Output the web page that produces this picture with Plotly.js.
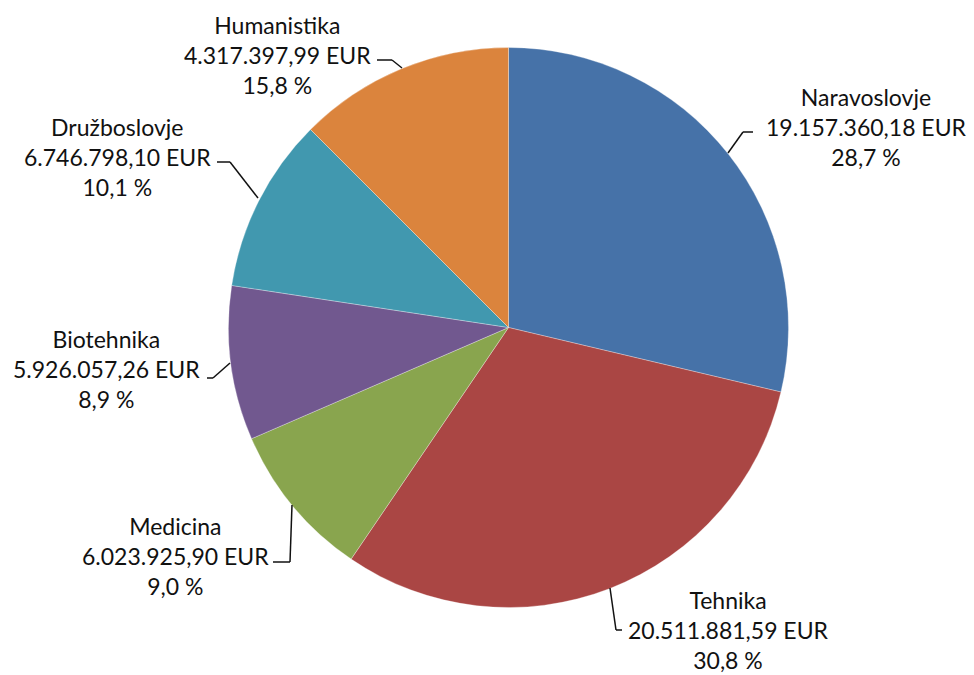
<!DOCTYPE html>
<html>
<head>
<meta charset="utf-8">
<script src="https://cdn.plot.ly/plotly-3.0.1.min.js"></script>
<style>html,body{margin:0;padding:0;background:#fff;}#chart{width:974px;height:675px;}</style>
</head>
<body>
<div id="chart"></div>
<script>
// ---- data ----
const categories = ["Naravoslovje", "Tehnika", "Medicina", "Biotehnika", "Družboslovje", "Humanistika"];
const amounts = ["19.157.360,18", "20.511.881,59", "6.023.925,90", "5.926.057,26", "6.746.798,10", "4.317.397,99"];
const percentLabels = ["28,7 %", "30,8 %", "9,0 %", "8,9 %", "10,1 %", "15,8 %"];
// slice sizes as drawn in the picture (share of the circle, %)
const sliceShares = [28.7, 30.8, 9.0, 8.9, 10.1, 12.5];
const colors = ["#4672A8", "#AA4644", "#89A54E", "#71588F", "#4198AF", "#DB843D"];

// ---- layout helpers (pixel -> paper) ----
const W = 974, H = 675;
const px = x => x / W, py = y => 1 - y / H;

// label block centres (px) and leader lines (px polylines)
const labelPos = [[866, 127], [728, 630], [175, 556], [106, 369], [117, 157], [277, 55]];
const leaders = [
  [[753,132],[743,132],[728,153]],
  [[610,588],[616,630],[622,630]],
  [[273,562],[290,562],[292,505]],
  [[207,378],[213,378],[230,363]],
  [[217,162],[230,162],[258,198]],
  [[377,60],[392,60],[402,68]]
];

const trace = {
  type: "pie",
  values: sliceShares,
  labels: categories,
  marker: {colors: colors, line: {color: "rgba(255,255,255,0.6)", width: 0.5}},
  sort: false,
  direction: "clockwise",
  rotation: 0,
  textinfo: "none",
  hoverinfo: "label",
  domain: {x: [px(508.5 - 280), px(508.5 + 280)], y: [py(327.5 + 280), py(327.5 - 280)]},
  showlegend: false
};

const annotations = categories.map((c, i) => ({
  xref: "paper", yref: "paper",
  x: px(labelPos[i][0]), y: py(labelPos[i][1]),
  xanchor: "center", yanchor: "middle",
  text: c + "<br>" + amounts[i] + " EUR<br>" + percentLabels[i],
  showarrow: false, align: "center",
  font: {family: "Lato, 'Open Sans', sans-serif", size: 23, color: "#111"}
}));

const shapes = [];
leaders.forEach(pts => {
  for (let k = 0; k < pts.length - 1; k++) {
    shapes.push({type: "line", xref: "paper", yref: "paper",
      x0: px(pts[k][0]), y0: py(pts[k][1]), x1: px(pts[k+1][0]), y1: py(pts[k+1][1]),
      line: {color: "#111", width: 1.5}});
  }
});

const layout = {
  width: W, height: H,
  margin: {l: 0, r: 0, t: 0, b: 0},
  paper_bgcolor: "#fff",
  annotations: annotations,
  shapes: shapes
};

Plotly.newPlot("chart", [trace], layout, {displayModeBar: false, staticPlot: true});
</script>
</body>
</html>
